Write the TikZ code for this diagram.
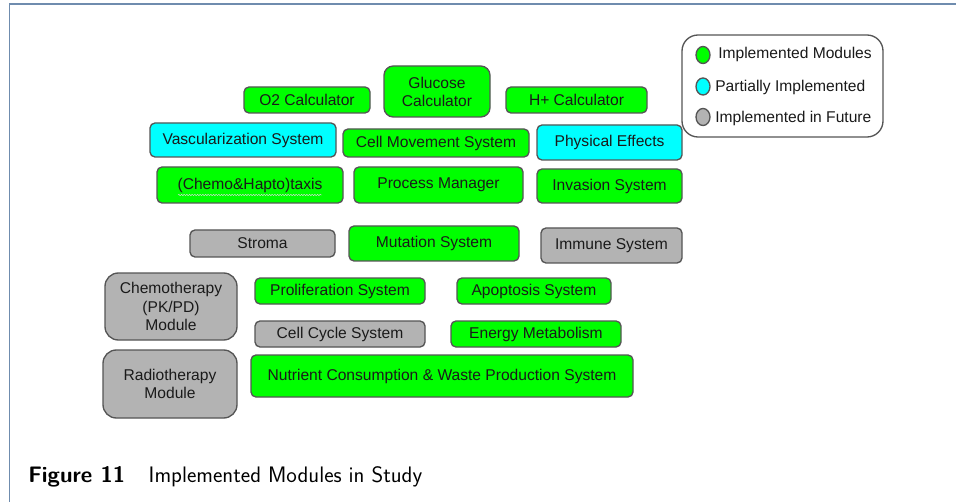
\documentclass[tikz,border=0pt]{standalone}
\usepackage{fontspec}
\setmainfont{Liberation Sans}
\usetikzlibrary{shapes.geometric,decorations.pathmorphing}
\definecolor{gfill}{HTML}{00FF00}
\definecolor{cfill}{HTML}{00FFFF}
\definecolor{yfill}{HTML}{B3B3B3}
\definecolor{edgec}{HTML}{555555}
\definecolor{txtc}{HTML}{1A1A1A}
\definecolor{framec}{HTML}{6F8CAE}
\tikzset{
  modbox/.style={draw=edgec, line width=1pt, rounded corners=3.75pt, inner sep=0pt,
    text=txtc, align=center, font=\fontsize{11.7}{13.6}\selectfont},
  boxsize/.style 2 args={minimum width={#1*0.75pt}, minimum height={#2*0.75pt}},
  greenmod/.style={modbox, fill=gfill},
  cyanmod/.style={modbox, fill=cfill},
  graymod/.style={modbox, fill=yfill},
  legdot/.style={ellipse, draw=edgec, line width=1pt, inner sep=0pt, minimum width=10.5pt, minimum height=12.75pt},
  legtxt/.style={anchor=west, inner sep=0pt, text=txtc, font=\fontsize{11.7}{13.6}\selectfont}
}
\begin{document}
\begin{tikzpicture}[x=0.75pt,y=-0.75pt]
\useasboundingbox (0,0) rectangle (956,502);
\fill[white] (0,0) rectangle (956,502);
% frame
\coordinate (fb) at (9.5,502);
\coordinate (fc) at (9.5,4);
\coordinate (fr) at (956,4);
\draw[framec, line width=1.1pt] (fb) -- (fc) -- (fr);

% top row
\node[greenmod, boxsize={126}{26}] (o2) at (307,100) {O2 Calculator};
\node[greenmod, boxsize={106}{51}, rounded corners=7pt] (glu) at (437,91.5) {Glucose\\Calculator};
\node[greenmod, boxsize={141}{26}] (hp) at (576.5,100) {H+ Calculator};
% second row
\node[cyanmod, boxsize={186}{34}] (vas) at (243,140) {Vascularization System};
\node[greenmod, boxsize={186}{28}] (cmv) at (436,143) {Cell Movement System};
\node[cyanmod, boxsize={145}{35}] (phy) at (609.5,142.5) {Physical Effects};
% third row
\node[greenmod, boxsize={186}{36}] (tax) at (250,185) {(Chemo\&Hapto)taxis};
\node[greenmod, boxsize={169}{36}] (pm) at (438.5,185) {Process Manager};
\node[greenmod, boxsize={145}{34}] (inv) at (609.5,186) {Invasion System};
% fourth row
\node[graymod, boxsize={145}{27}] (str) at (262.5,243.5) {Stroma};
\node[greenmod, boxsize={170}{35}] (mut) at (434,243.5) {Mutation System};
\node[graymod, boxsize={141}{35}] (imm) at (611.5,245.5) {Immune System};
% lower block
\node[graymod, boxsize={132}{67}, rounded corners=10pt] (che) at (171,306.5) {Chemotherapy\\(PK/PD)\\Module};
\node[greenmod, boxsize={170}{26}] (pro) at (340,291) {Proliferation System};
\node[greenmod, boxsize={154}{26}] (apo) at (534,291) {Apoptosis System};
\node[graymod, boxsize={170}{26}] (ccs) at (340,334) {Cell Cycle System};
\node[greenmod, boxsize={170}{26}] (ene) at (536,334) {Energy Metabolism};
\node[graymod, boxsize={134}{68}, rounded corners=10pt] (rad) at (170,384) {Radiotherapy\\Module};
\node[greenmod, boxsize={382}{42}] (nut) at (442,376) {Nutrient Consumption \& Waste Production System};

% faint spell-check squiggle
\coordinate (sq1) at (178,195);
\coordinate (sq2) at (322,195);
\draw[gray!30, line width=0.35pt, decorate, decoration={snake, amplitude=0.5pt, segment length=2pt}] (sq1) -- (sq2);

% legend
\node[draw=edgec, line width=1pt, rounded corners=12pt, fill=white, boxsize={201}{102}, inner sep=0pt] (leg) at (782.5,86) {};
\node[legdot, fill=gfill] (d1) at (703,55) {};
\node[legdot, fill=cfill] (d2) at (703,86.5) {};
\node[legdot, fill=yfill] (d3) at (703,117) {};
\node[legtxt] (t1) at (718,54) {Implemented Modules};
\node[legtxt] (t2) at (715,87) {Partially Implemented};
\node[legtxt] (t3) at (715,118) {Implemented in Future};

% caption
\node[anchor=base west, inner sep=0pt, font=\sffamily\fontsize{16.8}{19}\selectfont] (cap) at (28,482)
  {\textbf{Figure 11}\hspace{1.05em}Implemented Modules in Study};
\end{tikzpicture}
\end{document}
